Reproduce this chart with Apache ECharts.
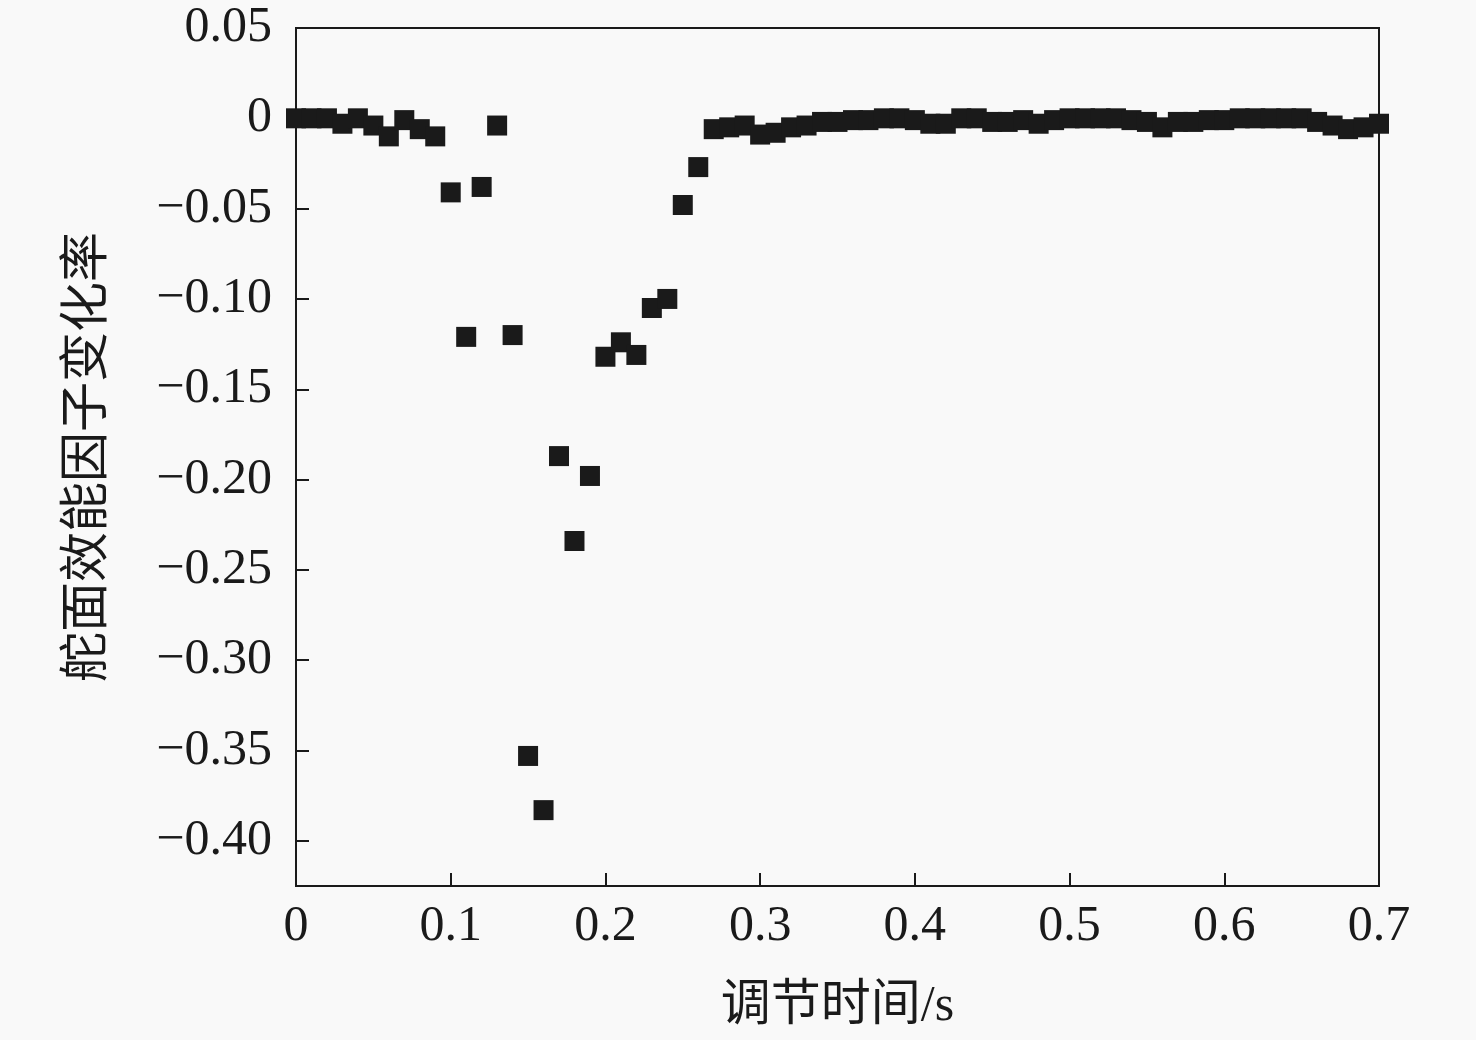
<!DOCTYPE html>
<html>
<head>
<meta charset="utf-8">
<script src="https://cdn.jsdelivr.net/npm/echarts@6/dist/echarts.min.js"></script>
<style>
html,body{margin:0;padding:0;background:#f9f9f9;}
#chart{width:1476px;height:1040px;}
</style>
</head>
<body>
<div id="chart"></div>
<script>
const times = [
  0.00,0.01,0.02,0.03,0.04,0.05,0.06,0.07,0.08,0.09,
  0.10,0.11,0.12,0.13,0.14,0.15,0.16,0.17,0.18,0.19,
  0.20,0.21,0.22,0.23,0.24,0.25,0.26,0.27,0.28,0.29,
  0.30,0.31,0.32,0.33,0.34,0.35,0.36,0.37,0.38,0.39,
  0.40,0.41,0.42,0.43,0.44,0.45,0.46,0.47,0.48,0.49,
  0.50,0.51,0.52,0.53,0.54,0.55,0.56,0.57,0.58,0.59,
  0.60,0.61,0.62,0.63,0.64,0.65,0.66,0.67,0.68,0.69,
  0.70
];
const rates = [
  0,0,0,-0.003,0,-0.004,-0.010,-0.001,-0.006,-0.010,
  -0.041,-0.121,-0.038,-0.004,-0.120,-0.353,-0.383,-0.187,-0.234,-0.198,
  -0.132,-0.124,-0.131,-0.105,-0.100,-0.048,-0.027,-0.006,-0.005,-0.004,
  -0.009,-0.008,-0.005,-0.004,-0.002,-0.002,-0.001,-0.001,0,0,
  -0.001,-0.003,-0.003,0,0,-0.002,-0.002,-0.001,-0.003,-0.001,
  0,0,0,0,-0.001,-0.002,-0.005,-0.002,-0.002,-0.001,
  -0.001,0,0,0,0,0,-0.002,-0.004,-0.006,-0.005,
  -0.003
];
const xTicks = [0,0.1,0.2,0.3,0.4,0.5,0.6,0.7];
const yTicks = [0.05,0,-0.05,-0.10,-0.15,-0.20,-0.25,-0.30,-0.35,-0.40];
const xTitle = '调节时间/s';
const yTitle = '舵面效能因子变化率';

const font = '"Liberation Serif","Times New Roman","Noto Sans CJK SC",serif';
const ink = '#1a1a1a';

function fmtY(v){
  if (Math.abs(v) < 1e-9) return '0';
  const s = Math.abs(v).toFixed(2);
  return v < 0 ? '\u2212' + s : s;
}
function fmtX(v){
  if (Math.abs(v) < 1e-9) return '0';
  return v.toFixed(1);
}

const chart = echarts.init(document.getElementById('chart'));
chart.setOption({
  backgroundColor: '#f9f9f9',
  animation: false,
  grid: {
    left: 296, right: 97, top: 28, bottom: 154,
    show: true, borderColor: ink, borderWidth: 2, backgroundColor: 'transparent'
  },
  xAxis: {
    type: 'value', min: 0, max: 0.7,
    name: xTitle, nameLocation: 'middle', nameGap: 96,
    nameTextStyle: { fontFamily: font, fontSize: 50, color: ink },
    axisLine: { show: true, onZero: false, lineStyle: { color: ink, width: 2 } },
    axisTick: { show: true, inside: true, length: 13, customValues: xTicks, lineStyle: { color: ink, width: 2 } },
    axisLabel: { customValues: xTicks, formatter: fmtX, fontFamily: font, fontSize: 50, color: ink, margin: 16 },
    splitLine: { show: false }
  },
  yAxis: {
    type: 'value', min: -0.425, max: 0.05,
    name: yTitle, nameLocation: 'middle', nameGap: 182,
    nameTextStyle: { fontFamily: font, fontSize: 50, color: ink },
    axisLine: { show: true, onZero: false, lineStyle: { color: ink, width: 2 } },
    axisTick: { show: true, inside: true, length: 13, customValues: yTicks, lineStyle: { color: ink, width: 2 } },
    axisLabel: { customValues: yTicks, formatter: fmtY, fontFamily: font, fontSize: 50, color: ink, margin: 24 },
    splitLine: { show: false }
  },
  series: [{
    type: 'scatter',
    data: times.map((t, i) => [t, rates[i]]),
    symbol: 'rect',
    symbolSize: 20,
    itemStyle: { color: ink, opacity: 1 },
    clip: false
  }]
});
</script>
</body>
</html>
